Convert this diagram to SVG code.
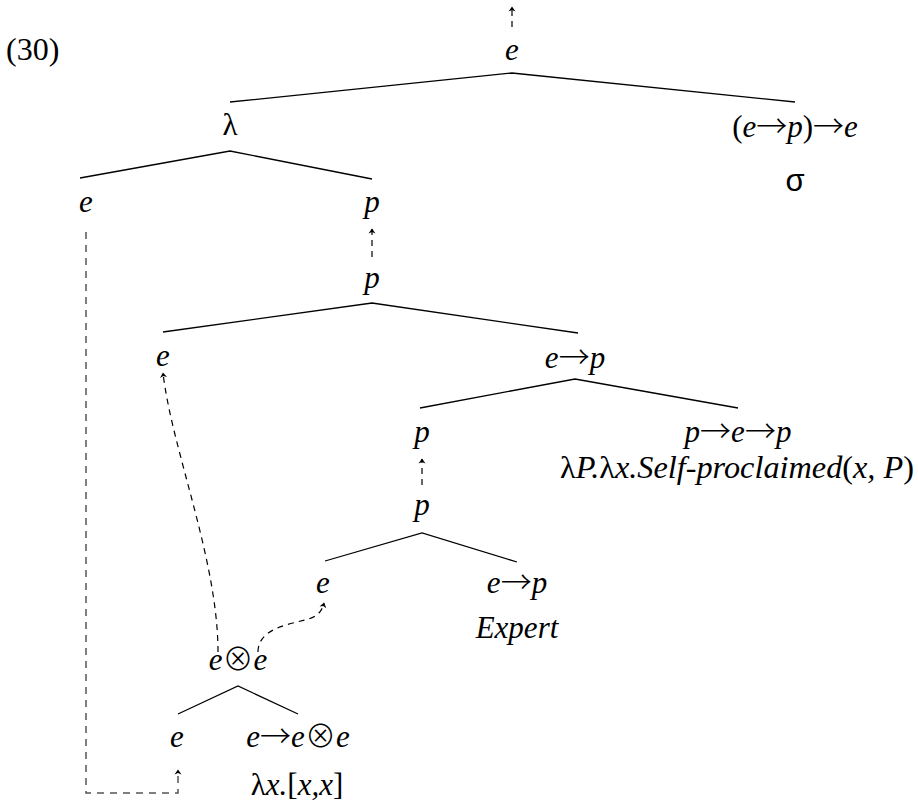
<svg xmlns="http://www.w3.org/2000/svg" width="918" height="805" viewBox="0 0 918 805">
<style>
text{font-family:"Liberation Serif","Times New Roman",serif;font-size:31px;fill:#000}
.i{font-style:italic}
.u{font-style:normal}
.m{text-anchor:middle}
.ar{font-family:"Noto Sans CJK SC","Noto Sans CJK JP",sans-serif;font-style:normal;font-weight:300}
.ot{font-family:"Noto Sans CJK JP","Noto Sans CJK SC",sans-serif;font-style:normal;font-weight:300}
.sans{font-family:"Liberation Sans","DejaVu Sans",sans-serif}
.edge{fill:none;stroke:#000;stroke-width:1.3}
.dash{fill:none;stroke:#000;stroke-width:1.2;stroke-dasharray:6 5}
.dashg{fill:none;stroke:#555;stroke-width:1.5;stroke-dasharray:7 6}
</style>
<defs>
<marker id="ah" viewBox="-5 -5 10 10" markerWidth="10" markerHeight="10" refX="0" refY="0" orient="auto" markerUnits="userSpaceOnUse">
<path d="M-4.5,-3.5 L0.5,0 L-4.5,3.5 L-3,0 Z" fill="#000"/>
</marker>
</defs>
<text x="6" y="60" style="font-size:32px">(30)</text>
<g id="connectors">
<path class="edge" d="M230,102 L512,73 L795,102"/>
<path class="edge" d="M80,178 L230,151 L372,179"/>
<path class="edge" d="M163,332 L372,303 L578,333"/>
<path class="edge" d="M420,408 L575,379 L738,408"/>
<path class="edge" d="M325,561 L422,533 L517,562"/>
<path class="edge" d="M178,714 L238,686 L298,714"/>
<path class="dash" d="M512,27 L512,7" marker-end="url(#ah)"/>
<path class="dash" d="M372,257 L372,229" marker-end="url(#ah)"/>
<path class="dash" d="M422,485 L422,459" marker-end="url(#ah)"/>
<path class="dashg" d="M86,232 L86,793 L178,793 L178,770" marker-end="url(#ah)"/>
<path class="dash" d="M218,652 C218,560 172,450 163,373" marker-end="url(#ah)"/>
<path class="dash" d="M258,652 C258,630 285,625 305,620 C318,617 322,611 324,603" marker-end="url(#ah)"/>
</g>
<g id="n_root"><text class="i m" x="512" y="60">e</text></g>
<g id="n_lambda"><text class="m" x="230" y="135">λ</text></g>
<g id="n_sigma"><text class="i m" x="795" y="137"><tspan class="u">(</tspan>e<tspan class="ar">→</tspan>p<tspan class="u">)</tspan><tspan class="ar">→</tspan>e</text><text class="sans m" x="795" y="191">σ</text></g>
<g id="n_e1"><text class="i m" x="86" y="212">e</text></g>
<g id="n_p1"><text class="i m" x="372" y="212">p</text></g>
<g id="n_p2"><text class="i m" x="372" y="288">p</text></g>
<g id="n_e2"><text class="i m" x="163" y="366">e</text></g>
<g id="n_ep1"><text class="i m" x="575" y="368">e<tspan class="ar">→</tspan>p</text></g>
<g id="n_p3"><text class="i m" x="422" y="442">p</text></g>
<g id="n_sp"><text class="i m" x="738" y="442">p<tspan class="ar">→</tspan>e<tspan class="ar">→</tspan>p</text><text class="i m" x="737" y="478" textLength="354" lengthAdjust="spacingAndGlyphs"><tspan class="u">λ</tspan>P.<tspan class="u">λ</tspan>x.Self-proclaimed<tspan class="u">(</tspan>x, P<tspan class="u">)</tspan></text></g>
<g id="n_p4"><text class="i m" x="422" y="515">p</text></g>
<g id="n_e3"><text class="i m" x="323" y="593">e</text></g>
<g id="n_expert"><text class="i m" x="517" y="593">e<tspan class="ar">→</tspan>p</text><text class="i m" x="517" y="638">Expert</text></g>
<g id="n_ee"><text class="i m" x="238" y="670">e<tspan class="ot">⊗</tspan>e</text></g>
<g id="n_e4"><text class="i m" x="177" y="747">e</text></g>
<g id="n_dup"><text class="i m" x="298" y="747">e<tspan class="ar">→</tspan>e<tspan class="ot">⊗</tspan>e</text><text class="i m" x="297" y="795"><tspan class="u">λ</tspan>x.<tspan class="u">[</tspan>x,x<tspan class="u">]</tspan></text></g>
</svg>
